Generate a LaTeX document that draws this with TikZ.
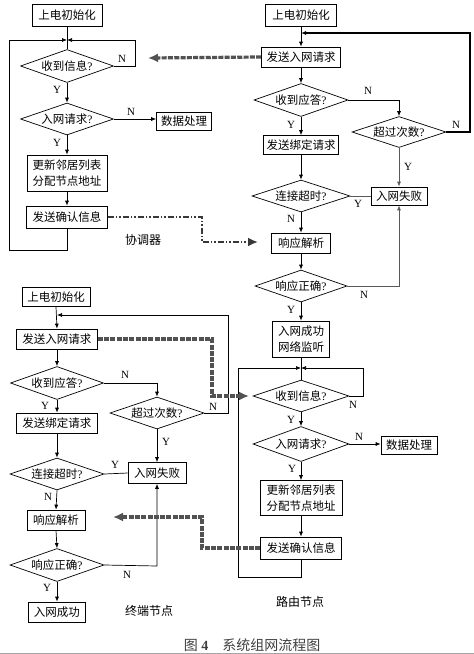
\documentclass[tikz,border=0pt]{standalone}
\usepackage{fontspec}
\setmainfont{Liberation Serif}
\newfontfamily\cjk{Noto Sans CJK SC}
\usetikzlibrary{shapes.geometric,arrows.meta}
\tikzset{
  bx/.style={draw, line width=0.7pt, inner sep=0pt, font=\cjk\fontsize{11.5}{16}\selectfont, align=center},
  dm/.style={draw, diamond, aspect=3, line width=0.7pt, inner sep=0pt, font=\fontsize{11.5}{14}\selectfont},
  ln/.style={line width=0.7pt},
  gln/.style={line width=0.8pt, draw=black!65},
  ar/.style={line width=0.7pt, -{Latex[length=5pt,width=4pt]}},
  gar/.style={line width=0.8pt, draw=black!65, -{Latex[length=5pt,width=4pt]}},
  yn/.style={font=\fontsize{11}{12}\selectfont, inner sep=0pt},
  lbl/.style={font=\cjk\fontsize{12}{14}\selectfont, inner sep=0pt},
  thd/.style={line width=3.2pt, draw=black!68, dash pattern=on 5pt off 1.3pt, -{Latex[length=10pt,width=9pt]}},
  ddot/.style={line width=2pt, draw=black!78, dash pattern=on 6pt off 2pt on 1.5pt off 2pt on 1.5pt off 2pt, -{Latex[length=10pt,width=9pt]}}
}
\begin{document}
\begin{tikzpicture}[x=1pt,y=-1pt]
\useasboundingbox (0,0) rectangle (474,654);
\fill[white] (0,0) rectangle (474,654);

% ---------------- coordinator (top left)
\node[bx, minimum width=70, minimum height=22] (c0) at (67,15) {上电初始化};
\node[dm, minimum width=93, minimum height=33] (c1) at (67,66) {{\cjk 收到信息}?};
\node[dm, minimum width=93, minimum height=32] (c2) at (67,119) {{\cjk 入网请求}?};
\node[bx, minimum width=55, minimum height=18] (c3) at (184,121) {数据处理};
\node[bx, minimum width=80, minimum height=36] (c4) at (67,173) {更新邻居列表\\分配节点地址};
\node[bx, minimum width=81, minimum height=22] (c5) at (67,217) {发送确认信息};
\coordinate (cm) at (67,40);
\coordinate (cl1) at (67,250);
\coordinate (cl2) at (9,250);
\coordinate (cl3) at (9,40);
\coordinate (cr1) at (135,66);
\coordinate (cr2) at (135,40);

\draw[ln] (c0.south) -- (c1.north);
\draw[ar] (c5.south) -- (cl1) -- (cl2) -- (cl3) -- (cm);
\draw[ar] (c1.east) -- (cr1) -- (cr2) -- (cm);
\draw[ar] (c1.south) -- (c2.north);
\draw[ar] (c2.east) -- (c2.east -| c3.west);
\draw[ar] (c2.south) -- (c4.north);
\draw[ar] (c4.south) -- (c5.north);
\node[yn] (l1) at (122,59) {N};
\node[yn] (l2) at (57,90) {Y};
\node[yn] (l3) at (131,112) {N};
\node[yn] (l4) at (57,143) {Y};
\node[lbl] (tc) at (143,240) {协调器};

% ---------------- router joining (top right)
\node[bx, minimum width=71, minimum height=22] (r0) at (301,15) {上电初始化};
\node[bx, minimum width=79, minimum height=20] (r1) at (301,57) {发送入网请求};
\node[dm, minimum width=94, minimum height=33] (r2) at (301,100) {{\cjk 收到应答}?};
\node[dm, minimum width=94, minimum height=31] (r3) at (399,132) {{\cjk 超过次数}?};
\node[bx, minimum width=56, minimum height=18] (r4) at (399,196) {入网失败};
\node[bx, minimum width=75, minimum height=19] (r5) at (301,145) {发送绑定请求};
\node[dm, minimum width=98, minimum height=32] (r6) at (301,196) {{\cjk 连接超时}?};
\node[bx, minimum width=59, minimum height=20] (r7) at (301,243) {响应解析};
\node[dm, minimum width=92, minimum height=32] (r8) at (301,286) {{\cjk 响应正确}?};
\node[bx, minimum width=57, minimum height=36] (r9) at (301,339) {入网成功\\网络监听};

\coordinate (rt1) at (470,132);
\coordinate (rt2) at (470,33);
\coordinate (rt3) at (301,33);
\coordinate (rn1) at (399,100);
\coordinate (rn2) at (399,286);

\draw[ar] (r0.south) -- (r1.north);
\draw[line width=1.3pt, -{Latex[length=5pt,width=4pt]}] (r3.east) -- (rt1) -- (rt2) -- (rt3);
\draw[ar] (r1.south) -- (r2.north);
\draw[ar] (r2.east) -- (rn1) -- (r3.north);
\draw[ar] (r2.south) -- (r5.north);
\draw[gar] (r3.south) -- (r4.north);
\draw[ar] (r5.south) -- (r6.north);
\draw[gln] (r6.east) -- (r4.west);
\draw[ar] (r6.south) -- (r7.north);
\draw[ar] (r7.south) -- (r8.north);
\draw[gar] (r8.east) -- (rn2) -- (r4.south);
\draw[ar] (r8.south) -- (r9.north);
\node[yn] (l5) at (368,91) {N};
\node[yn] (l6) at (456,125) {N};
\node[yn] (l7) at (291,125) {Y};
\node[yn] (l8) at (408,167) {Y};
\node[yn] (l9) at (358,204) {Y};
\node[yn] (l10) at (291,219) {N};
\node[yn] (l11) at (364,295) {N};
\node[yn] (l12) at (291,310) {Y};

% ---------------- router node (bottom right)
\node[dm, minimum width=96, minimum height=32] (r10) at (301,396) {{\cjk 收到信息}?};
\node[dm, minimum width=96, minimum height=35] (r11) at (301,444) {{\cjk 入网请求}?};
\node[bx, minimum width=56, minimum height=18] (r12) at (409,445) {数据处理};
\node[bx, minimum width=82, minimum height=35] (r13) at (301,498) {更新邻居列表\\分配节点地址};
\node[bx, minimum width=81, minimum height=22] (r14) at (301,548) {发送确认信息};
\coordinate (rm) at (301,368);
\coordinate (rl1) at (301,577);
\coordinate (rl2) at (238,577);
\coordinate (rl3) at (238,368);
\coordinate (rr1) at (363,396);
\coordinate (rr2) at (363,368);

\draw[ln] (r9.south) -- (r10.north);
\draw[ar] (r14.south) -- (rl1) -- (rl2) -- (rl3) -- (rm);
\draw[ar] (r10.east) -- (rr1) -- (rr2) -- (rm);
\draw[ar] (r10.south) -- (r11.north);
\draw[ar] (r11.east) -- (r11.east -| r12.west);
\draw[ar] (r11.south) -- (r13.north);
\draw[ar] (r13.south) -- (r14.north);
\node[yn] (l13) at (353,405) {N};
\node[yn] (l14) at (291,420) {Y};
\node[yn] (l15) at (359,437) {N};
\node[yn] (l16) at (292,469) {Y};
\node[lbl] (tr) at (300,602) {路由节点};

% ---------------- end device (bottom left)
\node[bx, minimum width=68, minimum height=19] (e0) at (56,297) {上电初始化};
\node[bx, minimum width=81, minimum height=20] (e1) at (57,339) {发送入网请求};
\node[dm, minimum width=93, minimum height=33] (e2) at (57,383) {{\cjk 收到应答}?};
\node[dm, minimum width=94, minimum height=32] (e3) at (157,413) {{\cjk 超过次数}?};
\node[bx, minimum width=58, minimum height=21] (e4) at (157,473) {入网失败};
\node[bx, minimum width=81, minimum height=20] (e5) at (57,423) {发送绑定请求};
\node[dm, minimum width=94, minimum height=32] (e6) at (57,474) {{\cjk 连接超时}?};
\node[bx, minimum width=58, minimum height=20] (e7) at (56,520) {响应解析};
\node[dm, minimum width=94, minimum height=33] (e8) at (57,565) {{\cjk 响应正确}?};
\node[bx, minimum width=57, minimum height=20] (e9) at (57,612) {入网成功};
\coordinate (et1) at (228,413);
\coordinate (et2) at (228,315);
\coordinate (et3) at (57,315);
\coordinate (en1) at (157,383);
\coordinate (en2) at (157,566);

\draw[ar] (e0.south) -- (e1.north);
\draw[ar] (e3.east) -- (et1) -- (et2) -- (et3);
\draw[ar] (e1.south) -- (e2.north);
\draw[ar] (e2.east) -- (en1) -- (e3.north);
\draw[ar] (e2.south) -- (e5.north);
\draw[ar] (e3.south) -- (e4.north);
\draw[ar] (e5.south) -- (e6.north);
\draw[ln] (e6.east) -- (e4.west);
\draw[ar] (e6.south) -- (e7.north);
\draw[ar] (e7.south) -- (e8.north);
\draw[ar] (e8.east) -- (en2) -- (e4.south);
\draw[ar] (e8.south) -- (e9.north);
\node[yn] (l17) at (125,375) {N};
\node[yn] (l18) at (213,407) {N};
\node[yn] (l19) at (45,406) {Y};
\node[yn] (l20) at (166,442) {Y};
\node[yn] (l21) at (115,465) {Y};
\node[yn] (l22) at (48,497) {N};
\node[yn] (l23) at (127,575) {N};
\node[yn] (l24) at (47,588) {Y};
\node[lbl] (te) at (149,611) {终端节点};

% ---------------- inter-device messages
\coordinate (d1) at (148,58);
\draw[thd] (r1.west) -- (d1);
\coordinate (dd1) at (202,217);
\coordinate (dd2) at (202,242);
\coordinate (dd3) at (258,242);
\draw[ddot] (c5.east) -- (dd1) -- (dd2) -- (dd3);
\coordinate (t1) at (212,339);
\coordinate (t2) at (212,396);
\coordinate (t3) at (249,396);
\draw[thd] (e1.east) -- (t1) -- (t2) -- (t3);
\coordinate (u1) at (202,548);
\coordinate (u2) at (202,517);
\coordinate (u3) at (113,517);
\draw[thd] (r14.west) -- (u1) -- (u2) -- (u3);

% ---------------- caption
\node[inner sep=0pt, text=black!75, font=\fontsize{14}{16}\selectfont] (cap) at (252,645) {{\cjk 图}\ \textbf{4}\quad{\cjk 系统组网流程图}};
\coordinate (b1) at (0,653);
\coordinate (b2) at (474,653);
\draw[black!35, line width=0.8pt] (b1) -- (b2);
\end{tikzpicture}
\end{document}
